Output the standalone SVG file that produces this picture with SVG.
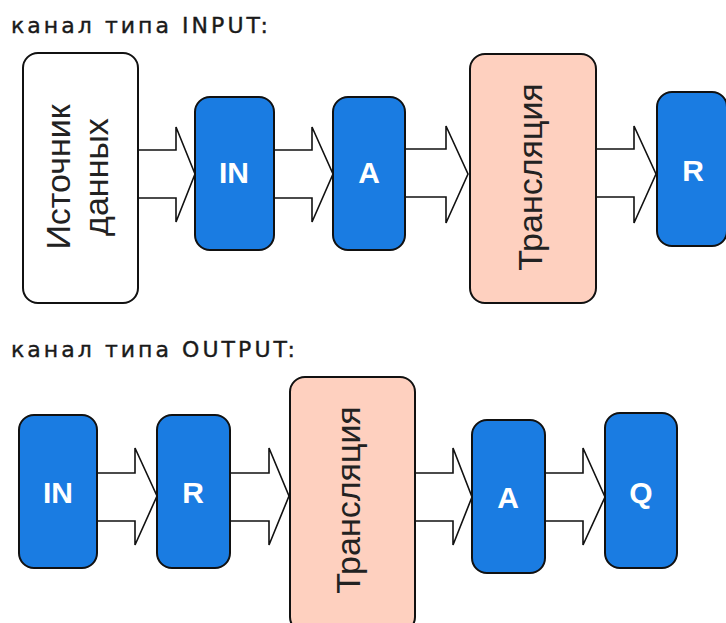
<svg xmlns="http://www.w3.org/2000/svg" width="726" height="623" viewBox="0 0 726 623">
<style>
.title{font-family:"DejaVu Sans",Verdana,sans-serif;font-size:22px;fill:#1a1a1a;stroke:#1a1a1a;stroke-width:0.4}
.arrow{fill:#fff;stroke:#111;stroke-width:1.6;stroke-linejoin:miter}
.blue{fill:#1a7ce2;stroke:#111;stroke-width:2}
.peach{fill:#fed0bf;stroke:#111;stroke-width:2}
.white{fill:#fff;stroke:#111;stroke-width:2}
.lbl{font-family:"Liberation Sans",Arial,sans-serif;font-weight:bold;font-size:30px;fill:#fff;text-anchor:middle}
.vt{font-family:"Liberation Sans",Arial,sans-serif;font-size:34px;fill:#222;text-anchor:middle}
</style>
<rect width="726" height="623" fill="#fff"/>
<text class="title" x="11" y="33" textLength="257" lengthAdjust="spacing">канал типа INPUT:</text>
<text class="title" x="11" y="357" textLength="284" lengthAdjust="spacing">канал типа OUTPUT:</text>
<g id="connectors">
<polygon class="arrow" points="138,150 176,150 176,127 195,174 176,222 176,198 138,198"/>
<polygon class="arrow" points="274,150 312,150 312,127 333,174 312,222 312,198 274,198"/>
<polygon class="arrow" points="405,149 446,149 446,126 468,174 446,223 446,197 405,197"/>
<polygon class="arrow" points="596,149 634,149 634,126 656,174 634,223 634,197 596,197"/>
<polygon class="arrow" points="97,473 135,473 135,448 157,496 135,545 135,521 97,521"/>
<polygon class="arrow" points="230,473 269,473 269,448 289,496 269,545 269,521 230,521"/>
<polygon class="arrow" points="415,473 453,473 453,448 472,497 453,545 453,521 415,521"/>
<polygon class="arrow" points="545,473 583,473 583,448 605,497 583,545 583,521 545,521"/>
</g>
<g id="src">
<rect class="white" x="23" y="53" width="115" height="250" rx="15"/>
<text class="vt" transform="translate(70,177) rotate(-90)">Источник</text>
<text class="vt" transform="translate(108,177) rotate(-90)">данных</text>
</g>
<g id="in1">
<rect class="blue" x="195" y="97" width="79" height="153" rx="15"/>
<text class="lbl" x="234" y="183">IN</text>
</g>
<g id="a1">
<rect class="blue" x="333" y="97" width="72" height="153" rx="15"/>
<text class="lbl" x="369" y="183">A</text>
</g>
<g id="tr1">
<rect class="peach" x="470" y="54" width="126" height="249" rx="15"/>
<text class="vt" transform="translate(542,177) rotate(-90)">Трансляция</text>
</g>
<g id="r1">
<rect class="blue" x="657" y="92" width="70" height="154" rx="15"/>
<text class="lbl" x="693" y="181">R</text>
</g>
<g id="in2">
<rect class="blue" x="19" y="415" width="78" height="153" rx="15"/>
<text class="lbl" x="58" y="503">IN</text>
</g>
<g id="r2">
<rect class="blue" x="157" y="415" width="73" height="153" rx="15"/>
<text class="lbl" x="193" y="503">R</text>
</g>
<g id="tr2">
<rect class="peach" x="290" y="377" width="125" height="255" rx="15"/>
<text class="vt" transform="translate(360,500) rotate(-90)">Трансляция</text>
</g>
<g id="a2">
<rect class="blue" x="472" y="420" width="73" height="153" rx="15"/>
<text class="lbl" x="508" y="508">A</text>
</g>
<g id="q2">
<rect class="blue" x="605" y="413" width="72" height="155" rx="15"/>
<text class="lbl" x="641" y="503">Q</text>
</g>
</svg>
